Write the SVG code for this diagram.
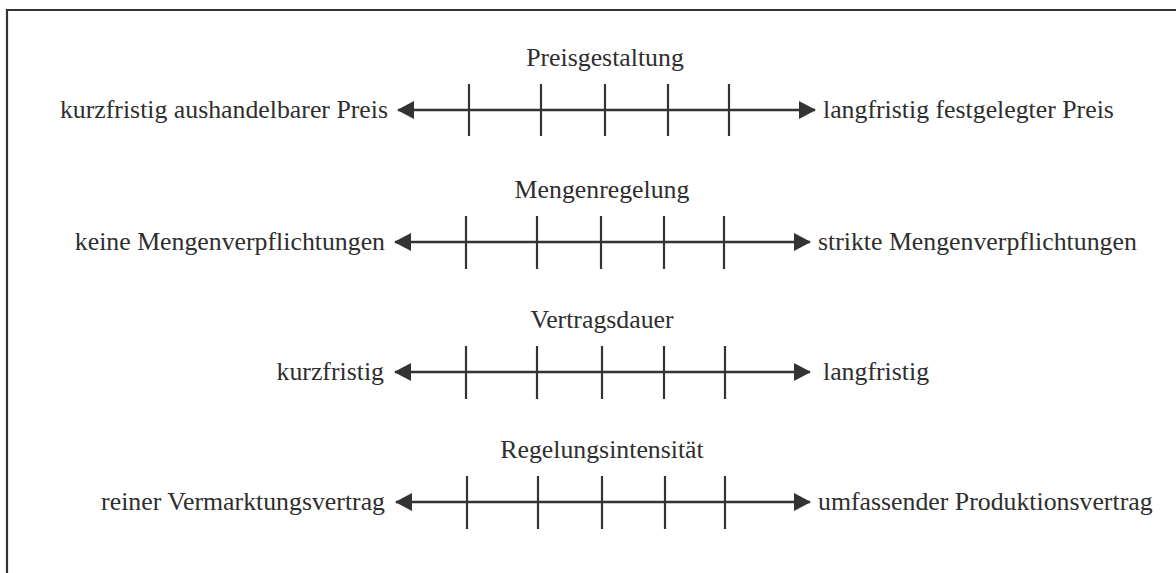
<svg xmlns="http://www.w3.org/2000/svg" width="1176" height="573" viewBox="0 0 1176 573">
<defs>
<style>
.t{font-family:"Liberation Serif","Times New Roman",serif;font-size:25.8px;fill:#2e2e2e}
.ax{stroke:#333;stroke-width:2.6;fill:none}
.tk{stroke:#333;stroke-width:2.2}
.fr{stroke:#333;stroke-width:2.2;fill:none}
</style>
<marker id="ah" viewBox="0 0 17 18" refX="16" refY="9" markerUnits="userSpaceOnUse" markerWidth="17" markerHeight="18" orient="auto-start-reverse">
<path d="M0,0 L17,9 L0,18 Z" fill="#333"/>
</marker>
</defs>
<rect width="1176" height="573" fill="#fff"/>
<path class="fr" d="M7,580 L7,10 L1180,10"/>
<g id="connectors">
<line class="ax" x1="398" y1="110" x2="815" y2="110" marker-start="url(#ah)" marker-end="url(#ah)"/>
<line class="ax" x1="395" y1="242" x2="810" y2="242" marker-start="url(#ah)" marker-end="url(#ah)"/>
<line class="ax" x1="395" y1="372" x2="810" y2="372" marker-start="url(#ah)" marker-end="url(#ah)"/>
<line class="ax" x1="396" y1="502" x2="810" y2="502" marker-start="url(#ah)" marker-end="url(#ah)"/>
</g>
<g id="row1">
<text class="t" x="605" y="66" text-anchor="middle">Preisgestaltung</text>
<text class="t" x="388" y="118" text-anchor="end">kurzfristig aushandelbarer Preis</text>
<text class="t" x="823" y="118">langfristig festgelegter Preis</text>
<path class="tk" d="M469,84V136M541,84V136M605,84V136M668,84V136M729,84V136"/>
</g>
<g id="row2">
<text class="t" x="602" y="198" text-anchor="middle">Mengenregelung</text>
<text class="t" x="385" y="250" text-anchor="end">keine Mengenverpflichtungen</text>
<text class="t" x="818" y="250">strikte Mengenverpflichtungen</text>
<path class="tk" d="M466,216V269M537,216V269M601,216V269M664,216V269M724,216V269"/>
</g>
<g id="row3">
<text class="t" x="602" y="328" text-anchor="middle">Vertragsdauer</text>
<text class="t" x="384" y="380" text-anchor="end">kurzfristig</text>
<text class="t" x="823" y="380">langfristig</text>
<path class="tk" d="M466,346V399M537,346V399M602,346V399M664,346V399M725,346V399"/>
</g>
<g id="row4">
<text class="t" x="602" y="458" text-anchor="middle">Regelungsintensität</text>
<text class="t" x="385" y="510" text-anchor="end">reiner Vermarktungsvertrag</text>
<text class="t" x="818" y="510">umfassender Produktionsvertrag</text>
<path class="tk" d="M467,476V529M538,476V529M602,476V529M665,476V529M725,476V529"/>
</g>
</svg>
